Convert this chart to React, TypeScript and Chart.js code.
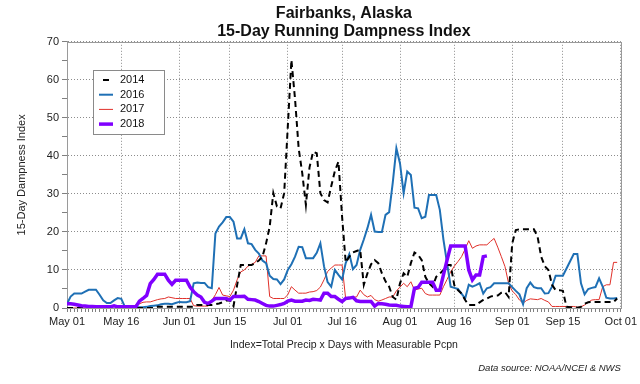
import React, { useEffect, useRef } from 'react';
import { Chart, registerables } from 'chart.js';

Chart.register(...registerables);

// Day index 0 = May 01
const tickDays = [0, 15, 31, 45, 61, 76, 92, 107, 123, 137, 153];
const tickLabels = ['May 01', 'May 16', 'Jun 01', 'Jun 15', 'Jul 01', 'Jul 16', 'Aug 01', 'Aug 16', 'Sep 01', 'Sep 15', 'Oct 01'];
const yTicks = [0, 5, 10, 15, 20, 25, 30, 35, 40, 45, 50, 55, 60, 65, 70];
const seriesNames = ['2014', '2016', '2017', '2018'];

const s2014 = [
  0, 0, 0, 0, 0, 0, 0, 0, 0, 0,
  0, 0, 0, 0, 0, 0, 0, 0, 0, 0,
  0, 0, 0, 0, 0, 0.3, 0.3, 0.3, 0.3, 0.3,
  0.3, 0.3, 0.3, 0.3, 0.3, 0.3, 0.8, 0.8, 0.8, 0.8,
  0.8, 1.0, 1.2, 1.5, 2.0, 2.0, 0.5, 6.0, 11.3, 11.3,
  11.3, 11.3, 11.8, 12.5, 13.5, 17, 21.4, 30.2, 26.7, 26.2,
  30.2, 47.7, 65.2, 55, 42, 35.4, 27.1, 37, 41.1, 40.7,
  30.2, 28.4, 27.8, 32, 36, 38.5, 24, 12, 13.5, 14.6,
  15, 15.3, 6.1, 9.1, 11.5, 12.6, 11.8, 9.1, 7, 5.6,
  2.9, 2.2, 6.5, 9.1, 8.2, 11.8, 14.6, 14, 12.6, 8.2,
  6.5, 5.6, 8.2, 9, 10, 11.3, 11.3, 6, 4.7, 3.8,
  2.1, 0.8, 0.8, 0.8, 1.5, 2.1, 2.5, 3.0, 3.2, 3.3,
  4.0, 4.2, 2.9, 17, 20.5, 20.7, 20.7, 20.7, 20.7, 20.7,
  18.8, 13.5, 11, 10, 6.1, 4.7, 4.7, 4.5, 0.3, 0.2,
  0.1, 0.1, 0.3, 1.1, 1.5, 1.6, 1.6, 1.6, 1.6, 1.6,
  1.6, 1.6, 2.5,
];

const s2016 = [
  1.1, 3.0, 3.8, 3.8, 3.8, 4.3, 4.8, 4.8, 4.8, 3.5,
  2.0, 1.3, 1.3, 2.0, 2.6, 2.4, 0.3, 0.2, 0.2, 0.2,
  0.2, 0.2, 0.3, 0.5, 0.6, 0.7, 1.0, 1.1, 1.1, 1.0,
  1.3, 1.6, 1.5, 1.5, 1.8, 6.5, 6.7, 6.6, 6.6, 5.5,
  5.2, 19.6, 21.4, 22.5, 23.9, 23.9, 22.7, 18.3, 18.3, 20.7,
  17, 16.8, 15.3, 14.3, 12.5, 11.8, 8.5, 7.6, 7.5, 6.3,
  7.5, 10, 11.5, 13.5, 16.1, 16, 13.1, 13.1, 13.1, 14.5,
  17, 11, 6.8, 5.6, 10, 8.7, 7.5, 11.8, 14.2, 10.2,
  11.3, 15.3, 18, 21, 24.5, 20.1, 20, 20, 24.5, 25.2,
  33, 42, 38, 30.2, 35.9, 35, 26.4, 26.2, 23.6, 24,
  29.7, 29.7, 29.7, 25.8, 18, 11.8, 5.6, 5.3, 5, 3.8,
  2.5, 6.1, 5.6, 6, 6.5, 3.8, 5.2, 5.5, 6.5, 6.5,
  6.5, 6.5, 6.5, 5.5, 4.5, 3.6, 1, 5.2, 6.7, 5.5,
  5.2, 5.2, 3.8, 3.9, 5.6, 8.5, 8.5, 8.5, 10.4, 12.3,
  14.2, 14.2, 6.5, 3.6, 5, 5.3, 5.5, 7.8, 5.6, 2.7,
  2.5, 2.5, 2.6,
];

const s2017 = [
  0, 0, 0, 0, 0, 0, 0, 0, 0, 0,
  0, 0.4, 0.4, 0.4, 0.4, 0.4, 0.4, 0.4, 0.4, 0.8,
  1.1, 1.5, 1.6, 1.6, 1.9, 2.2, 2.4, 2.5, 2.9, 2.7,
  2.5, 2.5, 2.5, 2.5, 2.5, 0.6, 0.5, 0.5, 0.5, 0.5,
  2.0, 3.5, 5.4, 3.4, 3.2, 3.0, 4.7, 7.4, 9.5, 10,
  11, 11.5, 12, 13.7, 13.7, 13.7, 3.0, 2.5, 2.5, 2.5,
  2.5, 3.5, 5.6, 4.7, 3.9, 3.9, 3.9, 4.2, 4.3, 4.6,
  5.5, 7.4, 9.6, 10.5, 11.3, 11.3, 11.3, 2.3, 2.8, 2.9,
  2.9, 4.7, 3.5, 2.9, 3.3, 2.2, 1.8, 2.1, 2.5, 2.9,
  2.9, 4.5, 5.5, 6.5, 5.6, 6.9, 4.7, 5.0, 5.2, 3.8,
  3.4, 3.4, 3.4, 3.4, 5.6, 7.5, 9.5, 11, 12.2, 13.5,
  15.5, 17.7, 15.7, 16.3, 16.6, 16.6, 16.6, 17.5, 18.3, 16,
  13.5, 10.9, 6.5, 4.5, 3.5, 2.1, 1.3, 2.0, 2.4, 2.3,
  2.2, 2.5, 2.0, 1.6, 0.4, 0.4, 0.4, 0.4, 0.4, 0.4,
  0.4, 0.2, 0.3, 0.8, 1.5, 2.1, 2.2, 2.2, 5.6, 6.1,
  6.1, 12, 12,
];

const s2018 = [
  1.1, 1.1, 1.0, 0.8, 0.6, 0.5, 0.4, 0.4, 0.3, 0.3,
  0.3, 0.3, 0.3, 0.6, 0.3, 0.3, 0.3, 0.3, 0.3, 0.3,
  1.8, 2.5, 3.3, 6.4, 7.5, 8.9, 8.9, 8.9, 7.3, 6.2,
  7.3, 7.3, 7.3, 7.3, 5.5, 4.3, 3.4, 2.9, 1.5, 1.2,
  1.8, 2.5, 2.5, 2.5, 2.5, 2.1, 3.0, 3.0, 3.0, 3.1,
  2.3, 2.2, 2.1, 1.7, 1.2, 0.7, 0.5, 0.5, 0.7, 0.9,
  1.2, 1.8, 2.1, 1.8, 1.8, 1.8, 2.1, 2.0, 2.3, 2.2,
  2.1, 3.9, 3.9, 3.0, 3.0, 2.3, 1.7, 2.5, 2.6, 2.8,
  1.9, 1.7, 1.7, 1.7, 1.7, 0.5, 1.2, 1.1, 1.0, 0.8,
  0.7, 0.7, 0.5, 0.4, 0.3, 0.3, 5.2, 5.4, 6.8, 6.8,
  6.8, 6.8, 4.7, 4.7, 8.7, 12.6, 16.3, 16.3, 16.3, 16.3,
  16.3, 10, 7.4, 8.7, 8.7, 13.5, 13.7,
];

const xDayTicks = Array.from({ length: 154 }, (_, i) => i);

const toPoints = (arr: number[]) => arr.map((v, i) => ({ x: i, y: v }));

const FONT = '"Liberation Sans", Arial, sans-serif';
const GRID = '#8c8c8c';

const framePlugin = {
  id: 'frame',
  beforeDatasetsDraw(chart: any) {
    const { ctx, chartArea } = chart;
    ctx.save();
    ctx.strokeStyle = '#9a9a9a';
    ctx.lineWidth = 1;
    ctx.strokeRect(Math.round(chartArea.left) + 0.5, Math.round(chartArea.top) + 0.5,
      Math.round(chartArea.right - chartArea.left), Math.round(chartArea.bottom - chartArea.top));
    ctx.restore();
  },
};

const boxLegendPlugin = {
  id: 'boxLegend',
  afterDatasetsDraw(chart: any) {
    const { ctx, chartArea } = chart;
    const x0 = Math.round(chartArea.left + 26);
    const y0 = Math.round(chartArea.top + 28);
    const w = 71;
    const h = 64;
    ctx.save();
    ctx.fillStyle = '#ffffff';
    ctx.fillRect(x0, y0, w, h);
    ctx.strokeStyle = '#8a8a8a';
    ctx.lineWidth = 1;
    ctx.strokeRect(x0 + 0.5, y0 + 0.5, w, h);
    chart.data.datasets.forEach((ds: any, i: number) => {
      const y = y0 + 10 + i * 14.7;
      ctx.strokeStyle = ds.borderColor;
      ctx.lineWidth = ds.borderWidth;
      ctx.setLineDash(ds.borderDash || []);
      ctx.lineDashOffset = ds.borderDash ? 6 : 0;
      ctx.beginPath();
      ctx.moveTo(x0 + 6, y);
      ctx.lineTo(x0 + 20, y);
      ctx.stroke();
      ctx.setLineDash([]);
      ctx.fillStyle = '#111';
      ctx.font = '11px ' + FONT;
      ctx.textBaseline = 'middle';
      ctx.textAlign = 'left';
      ctx.fillText(ds.label, x0 + 27, y);
    });
    ctx.restore();
  },
};

export default function App() {
  const ref = useRef<HTMLCanvasElement>(null);

  useEffect(() => {
    if (!ref.current) return;
    Chart.defaults.font.family = FONT;
    const chart = new Chart(ref.current, {
      type: 'line',
      data: {
        datasets: [
          {
            label: seriesNames[0], data: toPoints(s2014), borderColor: '#000000', borderWidth: 2,
            borderDash: [6, 4], pointRadius: 0, tension: 0, fill: false, order: 1,
          },
          {
            label: seriesNames[1], data: toPoints(s2016), borderColor: '#1f70b5', borderWidth: 2,
            pointRadius: 0, tension: 0, fill: false, order: 2,
          },
          {
            label: seriesNames[2], data: toPoints(s2017), borderColor: '#e0302a', borderWidth: 1,
            pointRadius: 0, tension: 0, fill: false, order: 3,
          },
          {
            label: seriesNames[3], data: toPoints(s2018), borderColor: '#8000ff', borderWidth: 3.5,
            pointRadius: 0, tension: 0, fill: false, order: 0,
          },
        ],
      },
      options: {
        responsive: false,
        animation: false,
        events: [],
        devicePixelRatio: 1,
        layout: { padding: { left: 0, right: 17, top: 0, bottom: 0 } },
        plugins: {
          legend: { display: false },
          tooltip: { enabled: false },
          title: {
            display: true,
            text: ['Fairbanks, Alaska', '15-Day Running Dampness Index'],
            font: { size: 16, weight: 'bold', lineHeight: 1.15 },
            color: '#111',
            padding: { top: 4, bottom: 1 },
            fullSize: false,
          },
          subtitle: {
            display: true,
            position: 'bottom',
            align: 'end',
            text: 'Data source: NOAA/NCEI & NWS',
            font: { size: 9.5, style: 'italic', lineHeight: 1.2 },
            color: '#222',
            padding: { top: 0, bottom: 10 },
            fullSize: false,
          },
        },
        scales: {
          x: {
            type: 'linear',
            min: 0,
            max: 153,
            weight: 1,
            afterBuildTicks: (s: any) => { s.ticks = xDayTicks.map((v) => ({ value: v })); },
            afterFit: (s: any) => { s.height = 54.6; },
            ticks: {
              autoSkip: false,
              maxRotation: 0,
              padding: 3,
              color: '#222',
              font: { size: 11 },
              callback: (v: any) => {
                const k = tickDays.indexOf(Number(v));
                return k >= 0 ? tickLabels[k] : '';
              },
            },
            grid: {
              color: (c: any) => (c.tick && tickDays.includes(c.tick.value) ? GRID : 'rgba(0,0,0,0)'),
              tickColor: '#808080',
              tickLength: 4,
              tickBorderDash: [],
              lineWidth: 1,
            },
            border: { display: true, color: '#9a9a9a', dash: [1, 2] },
            title: {
              display: true,
              text: 'Index=Total Precip x Days with Measurable Pcpn',
              font: { size: 10.5 },
              color: '#222',
              padding: { top: 0, bottom: 11 },
            },
          },
          y: {
            min: 0,
            max: 70,
            afterBuildTicks: (s: any) => { s.ticks = yTicks.map((v) => ({ value: v })); },
            afterFit: (s: any) => { s.width = 67; },
            ticks: {
              autoSkip: false,
              padding: 3,
              color: '#222',
              font: { size: 11 },
              callback: (v: any) => (Number(v) % 10 === 0 ? String(v) : ''),
            },
            grid: {
              color: (c: any) => (c.tick && c.tick.value % 10 === 0 ? GRID : 'rgba(0,0,0,0)'),
              tickColor: '#808080',
              tickLength: 5,
              tickBorderDash: [],
              lineWidth: 1,
            },
            border: { display: true, color: '#9a9a9a', dash: [1, 2] },
            title: {
              display: true,
              text: '15-Day Dampness Index',
              font: { size: 11 },
              color: '#222',
              padding: { top: 15, bottom: 0 },
            },
          },
        },
      },
      plugins: [framePlugin, boxLegendPlugin],
    } as any);
    return () => chart.destroy();
  }, []);

  return (
    <div style={{ position: 'absolute', left: 0, top: 0, width: 640, height: 384, background: '#fff' }}>
      <canvas ref={ref} width={640} height={384} style={{ display: 'block', width: 640, height: 384 }} />
    </div>
  );
}
